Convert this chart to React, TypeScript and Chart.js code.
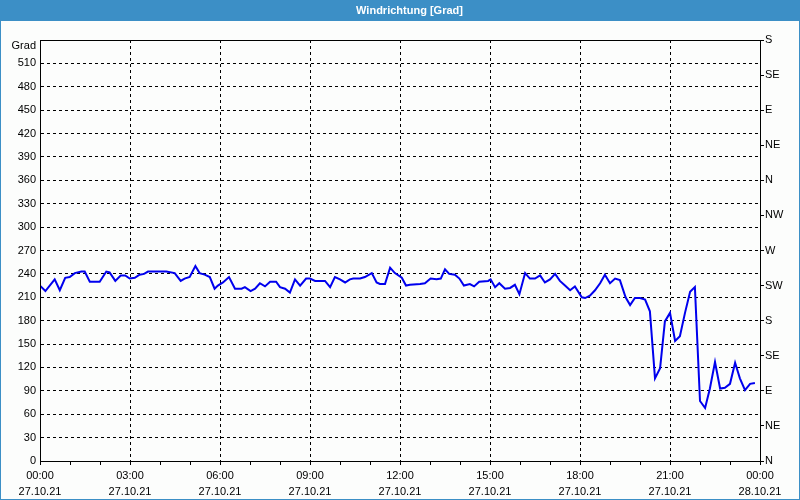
import React, { useEffect, useRef } from "react";
import { Chart, registerables } from "chart.js";

Chart.register(...registerables);

// Time of each reading in hours after 27.10.21 00:00
const hours = [
  0.0, 0.18, 0.49, 0.66, 0.84, 0.99, 1.16, 1.38, 1.49, 1.66, 1.99, 2.21, 2.32, 2.51, 2.69, 2.84, 2.99,
  3.16, 3.32, 3.47, 3.6, 4.21, 4.49, 4.69, 4.82, 4.99, 5.18, 5.32, 5.49, 5.66, 5.82, 5.93, 6.1, 6.3,
  6.5, 6.72, 6.83, 7.02, 7.17, 7.33, 7.5, 7.67, 7.87, 8.0, 8.17, 8.33, 8.5, 8.67, 8.87, 9.0, 9.17,
  9.5, 9.67, 9.83, 10.0, 10.17, 10.33, 10.44, 10.67, 10.83, 11.06, 11.22, 11.33, 11.5, 11.67, 11.83,
  12.06, 12.2, 12.33, 12.67, 12.83, 13.02, 13.22, 13.36, 13.5, 13.64, 13.83, 13.98, 14.13, 14.33,
  14.47, 14.64, 14.94, 15.02, 15.17, 15.31, 15.5, 15.67, 15.83, 15.98, 16.17, 16.33, 16.5, 16.67,
  16.83, 17.0, 17.17, 17.33, 17.5, 17.67, 17.83, 18.06, 18.17, 18.33, 18.5, 18.67, 18.83, 19.0,
  19.17, 19.33, 19.52, 19.67, 19.83, 20.0, 20.17, 20.33, 20.5, 20.67, 20.83, 21.0, 21.17, 21.33,
  21.5, 21.67, 21.83, 22.0, 22.17, 22.33, 22.5, 22.67, 22.83, 23.0, 23.17, 23.33, 23.5, 23.67, 23.83,
];

// Wind direction in degrees
const degrees = [
  225, 218, 233, 219, 235, 236, 241, 243, 243, 230, 230, 243, 242, 231, 238, 238, 234,
  235, 239, 240, 243, 243, 241, 231, 234, 236, 250, 241, 239, 236, 221, 225, 229, 236,
  221, 221, 223, 218, 221, 228, 224, 230, 230, 223, 221, 216, 233, 225, 234, 234, 231,
  231, 223, 236, 233, 229, 233, 234, 234, 236, 241, 229, 227, 227, 248, 241,
  235, 225, 226, 227, 228, 234, 233, 234, 246, 240, 239, 234, 225, 227,
  224, 230, 231, 233, 223, 228, 221, 222, 226, 214, 241, 234, 234, 238,
  229, 233, 240, 231, 225, 219, 224, 210, 209, 212, 219, 228, 239, 228,
  234, 232, 210, 200, 209, 209, 207, 192, 106, 119, 179, 190, 154, 160,
  190, 217, 223, 77, 68, 93, 127, 93, 94, 99, 126, 106, 91, 99, 100,
];

const timeLabels = ["00:00", "03:00", "06:00", "09:00", "12:00", "15:00", "18:00", "21:00", "00:00"];
const dateLabels = ["27.10.21", "27.10.21", "27.10.21", "27.10.21", "27.10.21", "27.10.21", "27.10.21", "27.10.21", "28.10.21"];
const compassLabels = ["N", "NE", "E", "SE", "S", "SW", "W", "NW", "N", "NE", "E", "SE", "S"];
const titleText = "Windrichtung [Grad]";
const unitLabel = "Grad";

const FONT = "'Liberation Sans', Arial, sans-serif";
const BLUE = "#3c8fc6";

const framePlugin = {
  id: "frame",
  beforeDraw(chart: any) {
    const ctx = chart.ctx;
    const w = chart.width;
    const h = chart.height;
    ctx.save();
    ctx.fillStyle = "#fcfdfc";
    ctx.fillRect(0, 0, w, h);
    ctx.fillStyle = BLUE;
    ctx.fillRect(0, 0, w, 21);
    ctx.fillRect(0, 21, 1, h - 21);
    ctx.fillRect(w - 1, 21, 1, h - 21);
    ctx.fillRect(0, h - 1, w, 1);
    ctx.fillStyle = "#ffffff";
    ctx.font = "bold 11px " + FONT;
    ctx.textAlign = "center";
    ctx.textBaseline = "middle";
    ctx.fillText(titleText, 409.5, 11);
    ctx.restore();
  },
  afterDraw(chart: any) {
    const ctx = chart.ctx;
    const a = chart.chartArea;
    ctx.save();
    ctx.strokeStyle = "#000";
    ctx.lineWidth = 1;
    ctx.setLineDash([]);
    ctx.strokeRect(Math.round(a.left) + 0.5, Math.round(a.top) + 0.5, Math.round(a.right - a.left), Math.round(a.bottom - a.top));
    ctx.fillStyle = "#000";
    ctx.font = "11px " + FONT;
    ctx.textAlign = "right";
    ctx.textBaseline = "middle";
    ctx.fillText(unitLabel, 36, 46);
    ctx.restore();
  },
};

export default function App() {
  const ref = useRef<HTMLCanvasElement | null>(null);
  useEffect(() => {
    if (!ref.current) return;
    const chart = new Chart(ref.current, {
      type: "line",
      data: {
        datasets: [
          {
            data: hours.map((h, i) => ({ x: h, y: degrees[i] })),
            borderColor: "#0000ee",
            borderWidth: 2,
            pointRadius: 0,
            tension: 0,
            fill: false,
            yAxisID: "y",
            xAxisID: "x",
          },
        ],
      },
      options: {
        responsive: false,
        animation: false,
        layout: { padding: { top: 40, left: 0, right: 0, bottom: 0 } },
        plugins: {
          legend: { display: false },
          title: { display: false },
          tooltip: { enabled: false },
        },
        scales: {
          x: {
            type: "linear",
            position: "bottom",
            min: 0,
            max: 24,
            afterFit: (s: any) => {
              s.height = 39;
            },
            ticks: {
              stepSize: 1,
              autoSkip: false,
              maxRotation: 0,
              minRotation: 0,
              color: "#000",
              padding: 3,
              font: { family: FONT, size: 11, lineHeight: 1.45 },
              callback: (v: any) => {
                const n = Number(v);
                return n % 3 === 0 ? [timeLabels[n / 3], dateLabels[n / 3]] : "";
              },
            },
            grid: {
              color: (c: any) => {
                const v = c.tick ? c.tick.value : 0;
                return v % 3 === 0 && v > 0 && v < 24 ? "#000" : "rgba(0,0,0,0)";
              },
              tickColor: "#000",
              tickLength: 4,
              tickWidth: 1,
              tickBorderDash: [],
            },
            border: { display: true, color: "#000", dash: [3, 3] },
          },
          y: {
            type: "linear",
            position: "left",
            min: 0,
            max: 540,
            afterFit: (s: any) => {
              s.width = 40;
            },
            ticks: {
              stepSize: 30,
              color: "#000",
              padding: 4,
              font: { family: FONT, size: 11 },
              callback: (v: any) => (Number(v) === 540 ? "" : String(v)),
            },
            grid: {
              drawTicks: false,
              color: (c: any) => {
                const v = c.tick ? c.tick.value : 0;
                return v > 0 && v < 540 ? "#000" : "rgba(0,0,0,0)";
              },
            },
            border: { display: true, color: "#000", dash: [3, 3] },
          },
          y2: {
            type: "linear",
            position: "right",
            min: 0,
            max: 540,
            afterFit: (s: any) => {
              s.width = 40;
            },
            ticks: {
              stepSize: 45,
              color: "#000",
              padding: 1,
              font: { family: FONT, size: 11 },
              callback: (v: any) => compassLabels[Math.round(Number(v) / 45)] ?? "",
            },
            grid: {
              drawOnChartArea: false,
              tickLength: 4,
              tickColor: "#000",
              tickWidth: 1,
              tickBorderDash: [],
            },
            border: { display: true, color: "#000" },
          },
        },
      },
      plugins: [framePlugin],
    } as any);
    return () => chart.destroy();
  }, []);
  return (
    <div style={{ position: "absolute", left: 0, top: 0, width: 800, height: 500 }}>
      <canvas ref={ref} width={800} height={500} style={{ display: "block" }} />
    </div>
  );
}
